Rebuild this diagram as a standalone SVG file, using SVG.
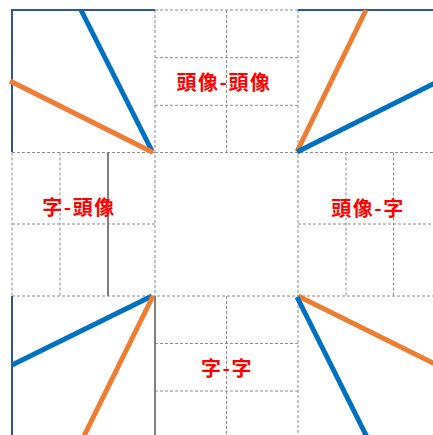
<svg xmlns="http://www.w3.org/2000/svg" width="433" height="435" viewBox="0 0 433 435">
<style>
.d{stroke:#8c8c8c;stroke-width:1;stroke-dasharray:3 2;fill:none}
.s{stroke:#808080;stroke-width:2;fill:none}
.n{stroke:#2F5597;stroke-width:2;fill:none}
.b{stroke:#0070C0;stroke-width:5;fill:none}
.o{stroke:#ED7D31;stroke-width:5;fill:none}
.t{fill:#FF0000;font-family:"Noto Sans CJK TC","Noto Sans CJK JP",sans-serif;font-size:20px;font-weight:bold;text-anchor:middle;letter-spacing:1.5px}
</style>
<rect width="433" height="435" fill="#fff"/>
<g id="grid">
<path class="d" d="M155,10H298M155,57.7H298M155,105.3H298M155,152.5H441M226.5,10V152.5M155,10V296M298,10V439"/>
<path class="d" d="M12,152.5H155M12,224H155M12,296H441M12,152.5V296M60,152.5V296"/>
<path class="s" d="M108,152.5V296M155,296V439"/>
<path class="d" d="M298,224H441M346,152.5V296M393.5,152.5V296"/>
<path class="d" d="M155,343.5H298M155,391H298M226.5,296V439"/>
</g>
<g id="corners">
<path class="n" d="M12,152V10H155"/>
<path class="n" d="M298,10H441"/>
<path class="n" d="M12,296V439"/>
</g>
<g id="connectors">
<line class="b" x1="81" y1="10" x2="152" y2="151"/>
<line class="o" x1="10" y1="81" x2="153" y2="152.5"/>
<line class="o" x1="366" y1="10" x2="297" y2="151.5"/>
<line class="b" x1="441" y1="80" x2="297" y2="152"/>
<line class="b" x1="12" y1="365" x2="152" y2="296"/>
<line class="o" x1="83" y1="438" x2="153" y2="296"/>
<line class="o" x1="441" y1="367" x2="298" y2="296"/>
<line class="b" x1="368" y1="439" x2="297" y2="297"/>
</g>
<g id="tt"><text class="t" x="224" y="90">頭像-頭像</text></g>
<g id="zt"><text class="t" x="79" y="215">字-頭像</text></g>
<g id="tz"><text class="t" x="368" y="216">頭像-字</text></g>
<g id="zz"><text class="t" x="227" y="376">字-字</text></g>
</svg>
